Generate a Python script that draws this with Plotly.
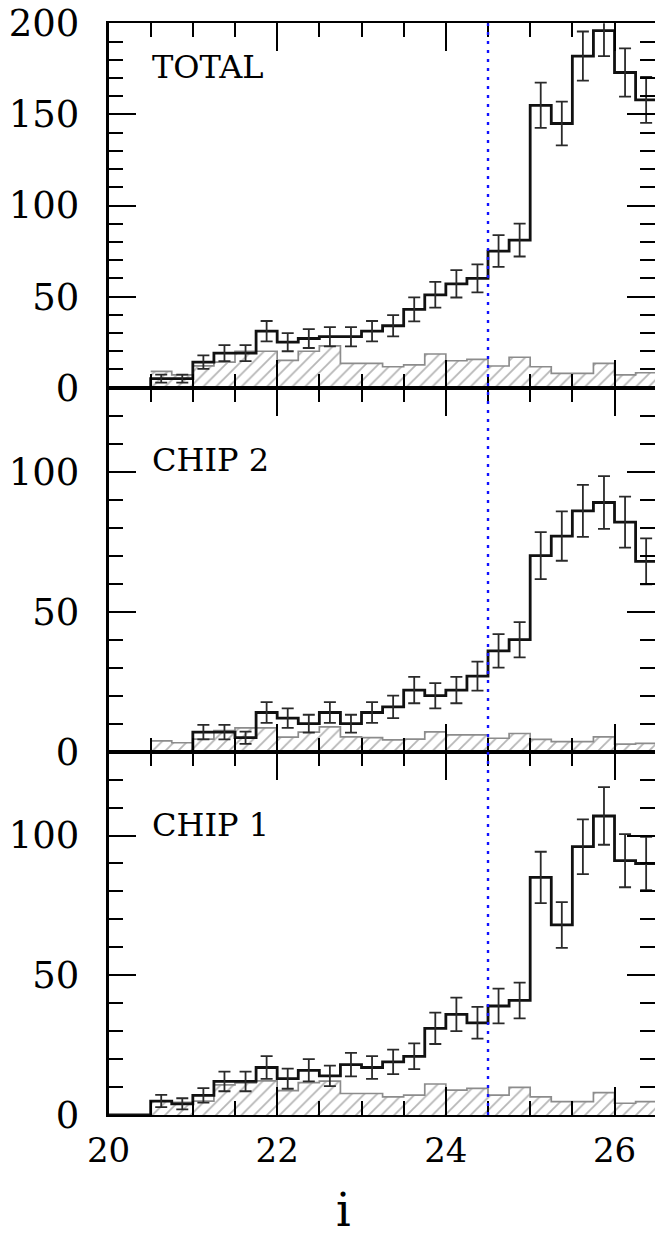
import plotly.graph_objects as go
from plotly.subplots import make_subplots

# ---- data -------------------------------------------------------------
bin_lo = [20.5, 20.75, 21.0, 21.25, 21.5, 21.75, 22.0, 22.25, 22.5, 22.75, 23.0, 23.25,
          23.5, 23.75, 24.0, 24.25, 24.5, 24.75, 25.0, 25.25, 25.5, 25.75, 26.0, 26.25]
bin_w = 0.25

total_counts = [5, 5, 14, 19, 19, 31, 25, 27, 28, 28, 31, 34, 43, 51, 57, 60, 75, 81,
                155, 145, 182, 196, 173, 158]
total_err = [2.2, 2.2, 3.7, 4.4, 4.4, 5.6, 5.0, 5.2, 5.3, 5.3, 5.6, 5.8, 6.6, 7.1, 7.5,
             7.7, 8.7, 9.0, 12.4, 12.0, 13.5, 14.0, 13.2, 12.6]
total_bg = [9, 7, 12, 14, 20, 20, 15, 20, 23, 13.4, 13.4, 11.5, 12.5, 18.5, 14.8, 15.6,
            11.9, 16.7, 11.5, 7.9, 7.9, 13.4, 7, 8.2]

chip2_counts = [0, 0, 7, 7, 5, 14, 12, 10, 14, 10, 14, 16, 22, 20, 22, 27, 36, 40,
                70, 77, 86, 89, 82, 68]
chip2_err = [0, 0, 2.6, 2.6, 2.2, 3.7, 3.5, 3.2, 3.7, 3.2, 3.7, 4.0, 4.7, 4.5, 4.7,
             5.2, 6.0, 6.3, 8.4, 8.8, 9.3, 9.4, 9.1, 8.2]
chip2_bg = [3.9, 3.2, 4.5, 7.5, 8.5, 8.5, 5.2, 7, 8.9, 5.3, 5, 4.2, 4.5, 7.1, 6, 6,
            4.8, 6.5, 4.4, 3.6, 3.6, 5.3, 2.7, 3]

chip1_counts = [5, 4, 7, 12, 12, 17, 13, 16, 14, 18, 17, 19, 21, 31, 36, 33, 39, 41,
                85, 68, 96, 107, 91, 90]
chip1_err = [2.2, 2.0, 2.6, 3.5, 3.5, 4.1, 3.6, 4.0, 3.7, 4.2, 4.1, 4.4, 4.6, 5.6, 6.0,
             5.7, 6.2, 6.4, 9.2, 8.2, 9.8, 10.3, 9.5, 9.5]
chip1_bg = [5, 4.5, 5, 10.8, 11.5, 12.2, 8.7, 11.6, 12.1, 7.7, 7.7, 6.5, 7.1, 11.1, 8.9,
            9.5, 7.1, 9.9, 6.5, 4.8, 4.8, 8, 4.2, 4.8]

panel_labels = ["TOTAL", "CHIP 2", "CHIP 1"]
y_max = [200, 130, 130]
y_tickvals = [[0, 50, 100, 150, 200], [0, 50, 100], [0, 50, 100]]
x_tickvals = [20, 22, 24, 26]
cut_mag = 24.5
x_min, x_max = 20, 26.48

# ---- figure -----------------------------------------------------------
W, H = 655, 1239
FONT = "DejaVu Serif"

fig = make_subplots(rows=3, cols=1, shared_xaxes=True, vertical_spacing=0)

centers = [b + bin_w / 2 for b in bin_lo]
edges = bin_lo + [bin_lo[-1] + bin_w]

panels = [(total_counts, total_err, total_bg),
          (chip2_counts, chip2_err, chip2_bg),
          (chip1_counts, chip1_err, chip1_bg)]

for i, (cnt, err, bg) in enumerate(panels):
    r = i + 1
    # hatched background histogram
    fig.add_trace(go.Bar(
        x=centers, y=bg, width=bin_w,
        marker=dict(color="rgba(0,0,0,0)", line=dict(width=0),
                    pattern=dict(shape="/", fgcolor="#6e6e6e", bgcolor="rgba(0,0,0,0)",
                                 size=9, solidity=0.2, fillmode="overlay")),
        showlegend=False, hoverinfo="skip"), row=r, col=1)
    fig.add_trace(go.Scatter(
        x=edges, y=bg + [bg[-1]], mode="lines", line=dict(shape="hv", color="#8c8c8c", width=1.7),
        showlegend=False, hoverinfo="skip"), row=r, col=1)
    # main histogram (starts at 0 from the axis origin)
    fig.add_trace(go.Scatter(
        x=[x_min] + edges, y=[0] + cnt + [cnt[-1]], mode="lines",
        line=dict(shape="hv", color="#111111", width=2.8),
        showlegend=False, hoverinfo="skip"), row=r, col=1)
    # Poisson error bars
    xs = [c for c, n in zip(centers, cnt) if n > 0]
    ys = [n for n in cnt if n > 0]
    es = [e for e, n in zip(err, cnt) if n > 0]
    fig.add_trace(go.Scatter(
        x=xs, y=ys, mode="markers", marker=dict(size=1, color="rgba(0,0,0,0)"),
        error_y=dict(type="data", array=es, visible=True, color="#2a2a2a",
                     thickness=1.8, width=6),
        showlegend=False, hoverinfo="skip"), row=r, col=1)

# domains (pixel based)
def fy(px):
    return 1 - px / H

ydoms = [(fy(387.7), fy(23.3)), (fy(751.7), fy(387.7)), (fy(1115.0), fy(751.7))]
xdom = (108.5 / W, 1.0)

axis_common = dict(linecolor="black", mirror="ticks", showline=True,
                   ticks="inside", tickcolor="black", tickwidth=2.2, ticklen=28,
                   showgrid=False, zeroline=False, automargin=False)

for i in range(3):
    r = i + 1
    fig.update_yaxes(row=r, col=1, domain=list(ydoms[i]), range=[0, y_max[i]],
                     tickmode="array", tickvals=y_tickvals[i], linewidth=2.5,
                     ticklabelstandoff=19,
                     tickfont=dict(family=FONT, size=37, color="black"),
                     minor=dict(tickmode="linear", tick0=0, dtick=10, ticklen=15,
                                tickwidth=2.2, tickcolor="black", ticks="inside",
                                showgrid=False),
                     **axis_common)
    fig.update_xaxes(row=r, col=1, domain=list(xdom), range=[x_min, x_max],
                     tickmode="array", tickvals=x_tickvals, linewidth=1.6,
                     ticklabelstandoff=4,
                     tickfont=dict(family=FONT, size=34, color="black"),
                     minor=dict(tickmode="linear", tick0=20, dtick=0.5, ticklen=14,
                                tickwidth=2.2, tickcolor="black", ticks="inside",
                                showgrid=False),
                     showticklabels=(r == 3),
                     **axis_common)

# dotted blue magnitude cut
fig.add_shape(type="line", xref="x", yref="paper", x0=cut_mag, x1=cut_mag,
              y0=ydoms[2][0], y1=ydoms[0][1],
              line=dict(color="#1010ff", width=2.4, dash="3px,6px"), layer="above")

# panel labels
label_y = [67, 460, 825]
for lab, py in zip(panel_labels, label_y):
    fig.add_annotation(text=lab, xref="paper", yref="paper", x=150 / W, y=fy(py),
                       xanchor="left", yanchor="middle", showarrow=False,
                       font=dict(family=FONT, size=32, color="black"))

# x-axis title
fig.add_annotation(text="i", xref="paper", yref="paper", x=343 / W, y=fy(1239),
                   xanchor="center", yanchor="bottom", showarrow=False,
                   font=dict(family=FONT, size=46, color="black"))

fig.update_layout(width=W, height=H, margin=dict(l=0, r=0, t=0, b=0),
                  paper_bgcolor="white", plot_bgcolor="white",
                  barmode="overlay", bargap=0, showlegend=False)

fig.write_html("out.html", config={"displayModeBar": False})
